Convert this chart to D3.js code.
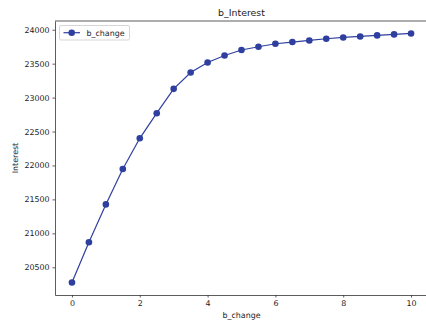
<!DOCTYPE html>
<html>
<head>
<meta charset="utf-8">
<script src="https://cdn.jsdelivr.net/npm/d3@7"></script>
<style>
  body { margin: 0; background: #fff; }
  svg { display: block; font-family: "DejaVu Sans", sans-serif; }
</style>
</head>
<body>
<svg id="chart" width="426" height="322"></svg>
<script>
// data
const bChange = [0, 0.5, 1, 1.5, 2, 2.5, 3, 3.5, 4, 4.5, 5, 5.5, 6, 6.5, 7, 7.5, 8, 8.5, 9, 9.5, 10];
const interest = [20275, 20869, 21426, 21947, 22400, 22770, 23129, 23370, 23518, 23620,
  23701, 23749, 23793, 23818, 23842, 23867, 23886, 23901, 23916, 23931, 23945];
const xTicks = [0, 2, 4, 6, 8, 10];
const yTicks = [20500, 21000, 21500, 22000, 22500, 23000, 23500, 24000];

const width = 426, height = 322;
const margin = { top: 21, right: -2, bottom: 27, left: 55 };
const color = "#2f3f9f";

const svg = d3.select("#chart");

// matplotlib style 5% padding on the data range
const xMin = d3.min(bChange), xMax = d3.max(bChange);
const yMin = d3.min(interest), yMax = d3.max(interest);
const xPad = (xMax - xMin) * 0.05, yPad = (yMax - yMin) * 0.05;

const x = d3.scaleLinear()
  .domain([xMin - xPad, xMax + xPad])
  .range([margin.left, width - margin.right]);
const y = d3.scaleLinear()
  .domain([yMin - yPad, yMax + yPad])
  .range([height - margin.bottom, margin.top]);

// axes
const xAxis = svg.append("g")
  .attr("transform", `translate(0,${height - margin.bottom})`)
  .call(d3.axisBottom(x).tickValues(xTicks).tickFormat(d3.format("d"))
    .tickSize(2.5).tickSizeOuter(0).tickPadding(3));
const yAxis = svg.append("g")
  .attr("transform", `translate(${margin.left},0)`)
  .call(d3.axisLeft(y).tickValues(yTicks).tickFormat(d3.format("d"))
    .tickSize(2.5).tickSizeOuter(0).tickPadding(3));

[xAxis, yAxis].forEach((a) => {
  a.selectAll(".domain").attr("stroke", "#333").attr("stroke-width", 0.8);
  a.selectAll(".tick line").attr("stroke", "#333").attr("stroke-width", 0.8);
  a.selectAll("text").attr("font-size", 7.9).attr("fill", "#222")
    .attr("font-family", "DejaVu Sans, sans-serif");
});

// top spine
svg.append("line")
  .attr("x1", margin.left).attr("x2", width)
  .attr("y1", margin.top).attr("y2", margin.top)
  .attr("stroke", "#333").attr("stroke-width", 0.8);

// line + markers
const line = d3.line()
  .x((d, i) => x(bChange[i]))
  .y((d) => y(d));

svg.append("path")
  .datum(interest)
  .attr("d", line)
  .attr("fill", "none")
  .attr("stroke", color)
  .attr("stroke-width", 1.2);

svg.selectAll("circle.pt")
  .data(interest)
  .enter()
  .append("circle")
  .attr("class", "pt")
  .attr("cx", (d, i) => x(bChange[i]))
  .attr("cy", (d) => y(d))
  .attr("r", 3.3)
  .attr("fill", color);

// title and labels
svg.append("text")
  .attr("x", (margin.left + width - margin.right) / 2)
  .attr("y", 16)
  .attr("text-anchor", "middle")
  .attr("font-size", 9.4)
  .attr("fill", "#222")
  .text("b_Interest");

svg.append("text")
  .attr("x", (margin.left + width - margin.right) / 2)
  .attr("y", 318)
  .attr("text-anchor", "middle")
  .attr("font-size", 7.9)
  .attr("fill", "#222")
  .text("b_change");

svg.append("text")
  .attr("transform", `translate(18,${(margin.top + height - margin.bottom) / 2}) rotate(-90)`)
  .attr("text-anchor", "middle")
  .attr("font-size", 7.9)
  .attr("fill", "#222")
  .text("Interest");

// legend
const lg = svg.append("g").attr("transform", "translate(59.5,25.5)");
lg.append("rect")
  .attr("width", 70).attr("height", 14.5).attr("rx", 1.5)
  .attr("fill", "#fff").attr("stroke", "#ccc").attr("stroke-width", 0.8);
lg.append("line")
  .attr("x1", 4).attr("x2", 20.5).attr("y1", 7.2).attr("y2", 7.2)
  .attr("stroke", color).attr("stroke-width", 1.2);
lg.append("circle").attr("cx", 12.2).attr("cy", 7.2).attr("r", 3.3).attr("fill", color);
lg.append("text")
  .attr("x", 27).attr("y", 10)
  .attr("font-size", 7.9)
  .attr("fill", "#222")
  .text("b_change");
</script>
</body>
</html>
